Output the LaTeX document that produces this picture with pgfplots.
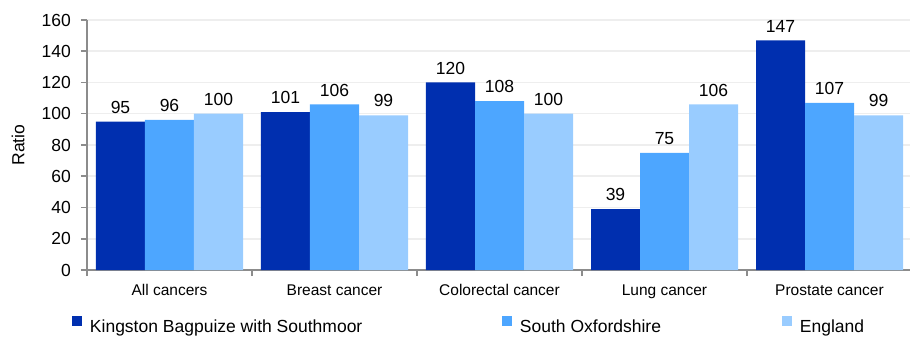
\documentclass[border=0pt]{standalone}
\usepackage{pgfplots}
\pgfplotsset{compat=1.18}
\usepackage{fontspec}
\setmainfont{Liberation Sans}

\definecolor{kbs}{RGB}{0,47,175}
\definecolor{sox}{RGB}{77,166,255}
\definecolor{eng}{RGB}{153,204,255}
\definecolor{axisgray}{RGB}{140,140,140}
\definecolor{gridgray}{RGB}{238,238,238}

\newcommand\fbig{\fontsize{17.5bp}{21bp}\selectfont}
\newcommand\fsmall{\fontsize{15.5bp}{19bp}\selectfont}

\begin{document}
\begin{tikzpicture}
\begin{axis}[
    scale only axis,
    width=825bp, height=250bp,
    ybar=0pt, bar width=49bp,
    xmin=-0.5, xmax=4.5, ymin=0, ymax=160,
    xtick={0,1,2,3,4},
    xticklabels={All cancers,Breast cancer,Colorectal cancer,Lung cancer,Prostate cancer},
    ytick={0,20,...,160},
    extra x ticks={-0.5,0.5,1.5,2.5,3.5},
    extra x tick labels={},
    x tick style={draw=none},
    extra x tick style={x tick style={draw=axisgray, line width=1.5bp}},
    y tick style={draw=axisgray, line width=1.5bp},
    tick align=outside,
    major tick length=6bp,
    axis x line*=bottom, axis y line*=left,
    axis line style={draw=axisgray, line width=1.6bp, -},
    ymajorgrids,
    major grid style={draw=gridgray, line width=1.5bp},
    /pgf/number format/assume math mode=true,
    xticklabel style={font=\fsmall, inner sep=0pt, anchor=base, yshift=-19.5bp},
    yticklabel style={font=\fbig, inner sep=0pt, anchor=east, xshift=-10bp},
    ylabel={Ratio},
    ylabel style={font=\fbig, at={(axis description cs:-0.0836,0.5)}, anchor=center},
    nodes near coords,
    nodes near coords style={font=\fbig, inner sep=0pt, anchor=south, yshift=8bp, text=black},
    legend columns=3,
    legend cell align=left,
    legend style={draw=none, fill=none, inner sep=0pt, outer sep=0pt,
        column sep=0pt, nodes={inner sep=0pt, font=\fbig},
        at={(axis description cs:-0.0182,-0.22)}, anchor=west},
    legend image code/.code={\fill[#1, draw=none] (0bp,0.5bp) rectangle (10bp,11bp);},
]
\addplot[fill=kbs, draw=none] coordinates {(0,95) (1,101) (2,120) (3,39) (4,147)};
\addplot[fill=sox, draw=none] coordinates {(0,96) (1,106) (2,108) (3,75) (4,107)};
\addplot[fill=eng, draw=none] coordinates {(0,100) (1,99) (2,100) (3,106) (4,99)};
\addlegendentry{\hspace*{8bp}\makebox[412bp][l]{Kingston Bagpuize with Southmoor}}
\addlegendentry{\hspace*{8bp}\makebox[262bp][l]{South Oxfordshire}}
\addlegendentry{\hspace*{8bp}England}
\end{axis}
\pgfresetboundingbox
\useasboundingbox (-87bp,-67.5bp) rectangle (823bp,270bp);
\end{tikzpicture}
\end{document}
